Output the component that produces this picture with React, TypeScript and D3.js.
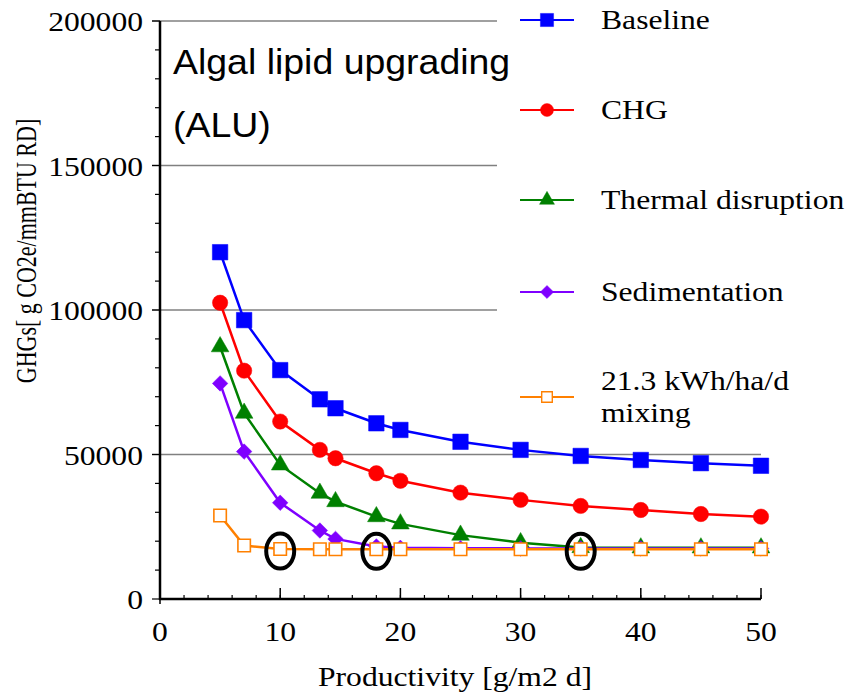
import React, {useEffect, useRef} from 'react';
import * as d3 from 'd3';

const productivity = [5, 7, 10, 13.3, 14.6, 18, 20, 25, 30, 35, 40, 45, 50];
const baseline = [120000, 96500, 79200, 69100, 66000, 60800, 58500, 54400, 51600, 49500, 48100, 47000, 46100];
const chg = [102500, 79000, 61400, 51600, 48700, 43500, 40900, 36800, 34300, 32200, 30800, 29400, 28500];
const thermal = [87300, 64300, 46400, 36600, 33700, 28500, 26000, 22100, 19500, 17800, 17700, 17700, 17700];
const sedimentation = [74600, 51000, 33300, 23700, 20800, 18200, 17700, 17600, 17500, 17500, 17500, 17500, 17500];
const mixing = [28900, 18500, 17300, 17200, 17200, 17200, 17200, 17200, 17200, 17200, 17200, 17200, 17200];
const circled = [10, 18, 35];

const seriesNames = ['Baseline', 'CHG', 'Thermal disruption', 'Sedimentation', '21.3 kWh/ha/d|mixing'];
const seriesColors = ['#0000ff', '#ff0000', '#008000', '#7f00ff', '#ff8000'];
const xTicks = [0, 10, 20, 30, 40, 50];
const yTicks = [0, 50000, 100000, 150000, 200000];

const App = () => {
  const ref = useRef<SVGSVGElement>(null);

  useEffect(() => {
    document.body.style.margin = '0';
    const svg = d3.select(ref.current);
    svg.selectAll('*').remove();

    const x = d3.scaleLinear().domain([0, 50]).range([160, 761]);
    const y = d3.scaleLinear().domain([0, 200000]).range([599, 21]);
    const serif = "'Liberation Serif', 'Times New Roman', serif";
    const stretch = 1.13;

    // horizontal text, slightly widened like the original
    const label = (tx: number, ty: number, s: string, anchor: string, size = 28, font = serif, sx = stretch) =>
      svg.append('text')
        .attr('transform', `translate(${tx},${ty}) scale(${sx},1)`)
        .attr('text-anchor', anchor)
        .style('font-family', font)
        .style('font-size', `${size}px`)
        .attr('fill', '#000')
        .text(s);

    // gridlines
    yTicks.filter(v => v > 0).forEach(v => {
      svg.append('line')
        .attr('x1', 152).attr('x2', x(50))
        .attr('y1', y(v)).attr('y2', y(v))
        .attr('stroke', '#808080').attr('stroke-width', 1.5);
    });

    // minor / major ticks
    d3.range(0, 200001, 10000).forEach(v => {
      const major = v % 50000 === 0;
      svg.append('line')
        .attr('x1', major ? 152 : 155).attr('x2', 160)
        .attr('y1', y(v)).attr('y2', y(v))
        .attr('stroke', '#000').attr('stroke-width', 1.2);
    });
    d3.range(0, 51, 2).forEach(v => {
      svg.append('line')
        .attr('x1', x(v)).attr('x2', x(v))
        .attr('y1', 599).attr('y2', 595)
        .attr('stroke', '#000').attr('stroke-width', 1.2);
    });
    xTicks.forEach(v => {
      svg.append('line')
        .attr('x1', x(v)).attr('x2', x(v))
        .attr('y1', 588).attr('y2', v === 0 ? 604 : 599)
        .attr('stroke', '#000').attr('stroke-width', 1.5);
      label(x(v), 641, String(v), 'middle');
    });
    yTicks.forEach(v => {
      label(143, y(v) + 10, String(v), 'end');
    });

    // axes
    svg.append('line').attr('x1', 160).attr('x2', 160).attr('y1', 21).attr('y2', 600)
      .attr('stroke', '#000').attr('stroke-width', 2.5);
    svg.append('line').attr('x1', 159).attr('x2', x(50)).attr('y1', 599).attr('y2', 599)
      .attr('stroke', '#000').attr('stroke-width', 2.5);

    // axis titles
    label(455, 686, 'Productivity [g/m2 d]', 'middle');
    svg.append('text')
      .attr('transform', 'translate(36,251) rotate(-90) scale(1,1.35)')
      .attr('text-anchor', 'middle')
      .style('font-family', serif)
      .style('font-size', '22px')
      .text('GHGs[ g CO2e/mmBTU RD]');

    // legend background hides the gridlines behind it
    svg.append('rect').attr('x', 497).attr('y', 0).attr('width', 353).attr('height', 440).attr('fill', '#fff');

    const sans = "'Liberation Sans', Arial, sans-serif";
    label(173, 74, 'Algal lipid upgrading', 'start', 35, sans, 1.07);
    label(173, 137, '(ALU)', 'start', 35, sans, 1.07);

    const allSeries = [baseline, chg, thermal, sedimentation, mixing];
    const shapes = [
      d3.symbol().type(d3.symbolSquare).size(240),
      d3.symbol().type(d3.symbolCircle).size(185),
      d3.symbol().type(d3.symbolTriangle).size(135),
      d3.symbol().type(d3.symbolSquare).size(120),
      d3.symbol().type(d3.symbolSquare).size(155)
    ];
    const rot = [0, 0, 0, 45, 0];

    const line = d3.line<[number, number]>().x(d => x(d[0])).y(d => y(d[1]));

    const drawMarker = (g: any, i: number, cx: number, cy: number, scale = 1) => {
      const hollow = i === 4;
      g.append('path')
        .attr('d', shapes[i]())
        .attr('transform', `translate(${cx},${cy}) rotate(${rot[i]}) scale(${scale})`)
        .attr('fill', hollow ? '#fff' : seriesColors[i])
        .attr('stroke', seriesColors[i])
        .attr('stroke-width', hollow ? 1.6 : 0.5);
    };

    allSeries.forEach((vals, i) => {
      const pts = productivity.map((p, k) => [p, vals[k]] as [number, number]);
      svg.append('path')
        .attr('d', line(pts))
        .attr('fill', 'none')
        .attr('stroke', seriesColors[i])
        .attr('stroke-width', 2.5);
      pts.forEach(d => drawMarker(svg, i, x(d[0]), y(d[1])));
    });

    // highlighted points
    circled.forEach(c => {
      const k = productivity.indexOf(c);
      svg.append('ellipse')
        .attr('cx', x(c)).attr('cy', y(mixing[k]) + 2)
        .attr('rx', 14).attr('ry', 17.5)
        .attr('fill', 'none').attr('stroke', '#000').attr('stroke-width', 4);
    });

    // legend
    const rows = [20, 110, 200, 292, 397];
    seriesNames.forEach((name, i) => {
      const ry = rows[i];
      svg.append('line').attr('x1', 520).attr('x2', 574).attr('y1', ry).attr('y2', ry)
        .attr('stroke', seriesColors[i]).attr('stroke-width', 2);
      drawMarker(svg, i, 547, ry, 0.85);
      const parts = name.split('|');
      if (parts.length === 1) {
        label(601, ry + 9, name, 'start');
      } else {
        label(601, ry - 7, parts[0], 'start');
        label(601, ry + 25, parts[1], 'start');
      }
    });
  }, []);

  return <svg ref={ref} width={850} height={695} style={{display: 'block', background: '#fff'}} />;
};

export default App;
